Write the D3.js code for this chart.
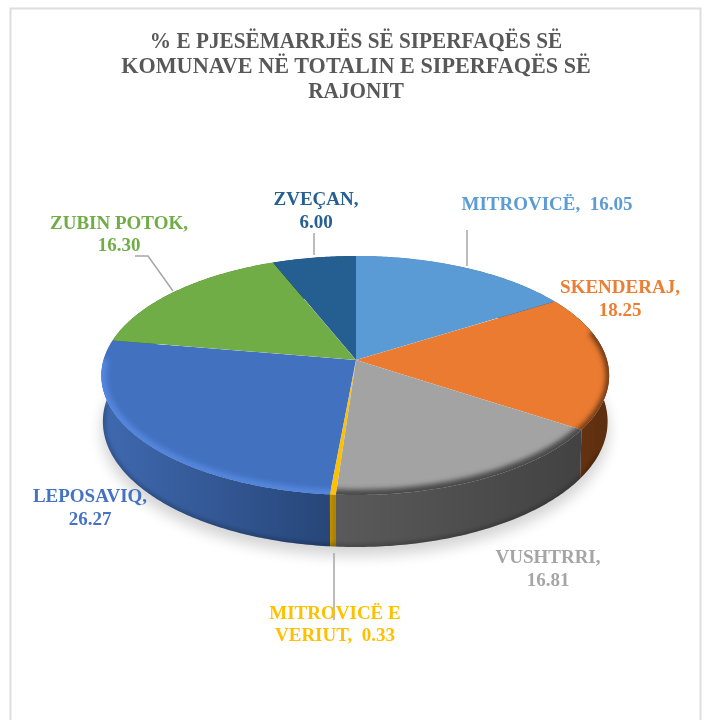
<!DOCTYPE html>
<html><head><meta charset="utf-8">
<script src="https://cdn.jsdelivr.net/npm/d3@7"></script>
<style>html,body{margin:0;padding:0;background:#fff}svg{display:block}
text{font-family:"Liberation Serif",serif;font-weight:700}</style></head>
<body><svg id="c" width="704" height="720"></svg>
<script>
const categories=["MITROVICË","SKENDERAJ","VUSHTRRI","MITROVICË E VERIUT","LEPOSAVIQ","ZUBIN POTOK","ZVEÇAN"];
const values=[16.05,18.25,16.81,0.33,26.27,16.30,6.00];
const valueLabels=["16.05","18.25","16.81","0.33","26.27","16.30","6.00"];
const titleLines=["% E PJESËMARRJËS SË SIPERFAQËS SË","KOMUNAVE NË TOTALIN E SIPERFAQËS SË","RAJONIT"];
const topColors=["#5b9bd5","#ea7b30","#a3a3a3","#ffc000","#4271c0","#70ad47","#255e91"];
const sideLeft=["#3f74a3","#6b3612","#5a5a5a","#bf9000","#3f69b0","#4f7a32","#1c4670"];
const sideRight=["#3f74a3","#5c2e0f","#424242","#a67d00","#274679","#4f7a32","#1c4670"];
const rimColors=[null,"#6b3813","#4a4a4a","#ffc000","#5486de",null,null];
const rimStart=[0,-0.25,-0.1,-0.1,-0.02,0,0];

const svg=d3.select("#c");
const defs=svg.append("defs");
const addBlur=(id,s)=>defs.append("filter").attr("id",id).attr("x","-20%").attr("y","-20%").attr("width","140%").attr("height","140%")
  .append("feGaussianBlur").attr("stdDeviation",s);
addBlur("b1",2.6);addBlur("b2",7);addBlur("bt",0.35);

// frame
svg.append("path").attr("d","M10.5,720V8.5H700.5V720").attr("fill","none").attr("stroke","#dedede").attr("stroke-width",2);

// perspective projection of the pie disc
const cx=356,cy=360,R=251,RL=252.5,A=70.8,C=-0.1297,H=52,bottomScale=0.994;
const pt=a=>{const u=Math.sin(a),v=-Math.cos(a),d=1+C*v;return{x:cx+(u<0?RL:R)*u/d,y:(A*v+cy)/d,d,v};};
const topPt=a=>{const p=pt(a);return[p.x,p.y];};
const botPt=a=>{const p=pt(a);return[cx+(p.x-cx)*bottomScale,p.y+H*(1+C)/p.d];};
const lineGen=d3.line();
const samples=(a0,a1)=>{const n=Math.max(2,Math.ceil((a1-a0)*80));return d3.range(n+1).map(i=>a0+(a1-a0)*i/n);};
const arcs=d3.pie().sort(null).value(d=>d)(values);

// ground shadow
const all=samples(0,2*Math.PI);
svg.append("path").attr("d",lineGen(all.map(a=>{const b=botPt(a);return[cx+(b[0]-cx)*1.005,b[1]+9];}))+"Z")
  .attr("fill","#000").attr("opacity",0.17).attr("filter","url(#b2)");

// side walls
const sideG=svg.append("g");
arcs.forEach((d,i)=>{
  defs.append("linearGradient").attr("id","s"+i).selectAll("stop").data([sideLeft[i],sideRight[i]]).join("stop")
    .attr("offset",(c,k)=>k).attr("stop-color",c=>c);
});
sideG.selectAll("path.side").data(arcs).join("path").attr("class","side")
  .attr("fill",(d,i)=>`url(#s${i})`)
  .attr("d",d=>{const s=samples(d.startAngle,d.endAngle);return lineGen(s.map(topPt).concat(s.slice().reverse().map(botPt)))+"Z";});
// dark foot of the wall
defs.append("clipPath").attr("id","foot").append("path").attr("d",lineGen(all.map(botPt))+"Z");
svg.append("g").attr("clip-path","url(#foot)").append("path")
  .attr("d",lineGen(samples(Math.PI*0.62,Math.PI*1.5).map(botPt)))
  .attr("fill","none").attr("stroke","#000").attr("stroke-opacity",0.4).attr("stroke-width",3).attr("filter","url(#b1)");

// top faces
const faces=svg.append("g");
arcs.forEach((d,i)=>{
  const s=samples(d.startAngle,d.endAngle);
  const pathD=lineGen([[cx,cy]].concat(s.map(topPt)))+"Z";
  defs.append("clipPath").attr("id","f"+i).append("path").attr("d",pathD);
  const g=faces.append("g").attr("clip-path",`url(#f${i})`);
  g.append("path").attr("d",pathD).attr("fill",topColors[i]);
  if(rimColors[i]){
    const rs=samples(d.startAngle-0.05,d.endAngle+0.05).filter(a=>pt(a).v>rimStart[i]);
    g.append("path").attr("d",lineGen(rs.map(topPt))).attr("fill","none")
      .attr("stroke",rimColors[i]).attr("stroke-width",i===4?10:i===1?7:11).attr("filter","url(#b1)");
  }
});

// leader lines
const leaders=[[[467,230],[467,266]],[[314,233],[314,255]],[[135,256],[148,256],[173,291]],[[334,553],[334,620]]];
svg.append("g").selectAll("path").data(leaders).join("path").attr("d",d=>lineGen(d))
  .attr("fill","none").attr("stroke","#a6a6a6").attr("stroke-width",1.5);

// text helper: horizontally adjusted serif, centered
function put(t,x,y,size,stretch,color){
  svg.append("text").attr("transform",`translate(${x},${y}) scale(${stretch},1)`).attr("text-anchor","middle")
    .attr("font-size",size).attr("fill",color).attr("filter","url(#bt)").style("white-space","pre").text(t);
}
const titleY=[48,73,98];
const titleStretch=[0.945,0.987,0.945];
titleLines.forEach((t,i)=>put(t,356,titleY[i],22.5,titleStretch[i],"#595959"));

const labelLines=[
  [`${categories[0]},  ${valueLabels[0]}`],
  [`${categories[1]},`,valueLabels[1]],
  [`${categories[2]},`,valueLabels[2]],
  ["MITROVICË E",`VERIUT,  ${valueLabels[3]}`],
  [`${categories[4]},`,valueLabels[4]],
  [`${categories[5]},`,valueLabels[5]],
  [`${categories[6]},`,valueLabels[6]]
];
const labelPos=[[547,[210]],[620,[293,316]],[548,[563,586]],[335,[619,641]],[90,[502,525]],[119,[229,251]],[316,[205,228]]];
const labelColors=["#5b9bd5","#ed7d31","#a5a5a5","#ffc000","#4472c4","#70ad47","#255e91"];
labelLines.forEach((ls,i)=>ls.forEach((t,k)=>put(t,labelPos[i][0],labelPos[i][1][k],19,1.0,labelColors[i])));
</script></body></html>
